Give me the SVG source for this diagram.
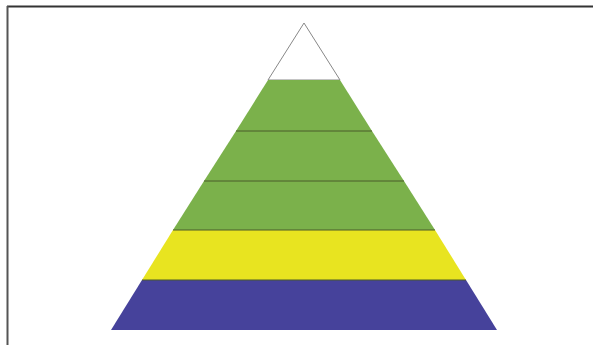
<svg xmlns="http://www.w3.org/2000/svg" width="593" height="345" viewBox="0 0 593 345">
<style>
.sep{stroke:#4a5a2a;stroke-width:1}
</style>
<rect width="593" height="345" fill="#ffffff"/>
<g id="frame">
<line x1="7" y1="6.5" x2="593" y2="6.5" stroke="#333" stroke-width="2"/>
<line x1="7.5" y1="6" x2="7.5" y2="345" stroke="#555" stroke-width="2"/>
</g>
<g id="pyramid">
<g id="layer-top"><polygon points="304,23 340,80 268,80" fill="#ffffff" stroke="#888" stroke-width="1"/></g>
<g id="layer-g1"><polygon points="268,80 340,80 372,131 236,131" fill="#7bb14b"/></g>
<g id="layer-g2"><polygon points="236,131 372,131 404,181 204,181" fill="#7bb14b"/></g>
<g id="layer-g3"><polygon points="204,181 404,181 435,230 173,230" fill="#7bb14b"/></g>
<g id="layer-yellow"><polygon points="173,230 435,230 466,280 142,280" fill="#e8e420"/></g>
<g id="layer-blue"><polygon points="142,280 466,280 497,330 111,330" fill="#46429b"/></g>
</g>
<g id="connectors">
<line class="sep" x1="236" y1="131" x2="372" y2="131"/>
<line class="sep" x1="204" y1="181" x2="404" y2="181"/>
<line class="sep" x1="173" y1="230" x2="435" y2="230"/>
<line class="sep" x1="142" y1="280" x2="466" y2="280"/>
</g>
</svg>
